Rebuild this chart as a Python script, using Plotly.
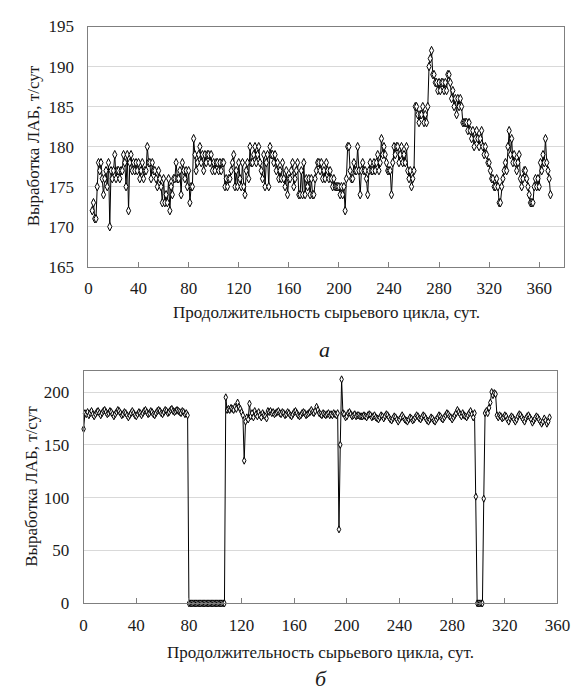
import plotly.graph_objects as go

# ---------------- Data ----------------
# (a) production by day, top chart (days start at 3)
top_start_day = 3
top_values = [
    172, 173, 171, 171, 175, 178, 177, 178, 176, 174,
    176, 177, 175, 178, 170, 177, 176, 177, 179, 176,
    177, 177, 176, 177, 177, 179, 178, 175, 179, 172,
    178, 179, 177, 178, 177, 178, 177, 178, 176, 177,
    178, 176, 177, 177, 180, 178, 178, 176, 178, 177,
    177, 176, 175, 177, 176, 175, 173, 176, 173, 174,
    173, 176, 172, 175, 174, 176, 176, 178, 176, 176,
    177, 174, 178, 177, 176, 177, 175, 177, 173, 175,
    175, 181, 179, 177, 178, 179, 180, 178, 179, 177,
    179, 178, 179, 179, 178, 179, 177, 178, 177, 178,
    178, 177, 178, 177, 178, 178, 175, 176, 175, 176,
    176, 177, 178, 179, 175, 177, 175, 178, 176, 175,
    178, 175, 174, 177, 178, 176, 180, 178, 178, 179,
    180, 178, 179, 180, 178, 177, 176, 179, 175, 178,
    179, 175, 180, 179, 179, 178, 179, 177, 178, 176,
    177, 176, 178, 176, 175, 177, 174, 176, 176, 177,
    178, 175, 176, 177, 178, 174, 174, 177, 174, 178,
    174, 176, 175, 176, 174, 176, 174, 174, 176, 177,
    178, 178, 177, 178, 176, 177, 176, 178, 177, 176,
    177, 176, 175, 176, 175, 175, 175, 175, 174, 175,
    174, 175, 172, 176, 180, 180, 177, 176, 176, 178,
    177, 177, 180, 177, 174, 177, 178, 177, 177, 176,
    174, 177, 178, 177, 177, 178, 177, 178, 179, 177,
    178, 181, 179, 180, 179, 178, 177, 177, 177, 174,
    178, 180, 179, 180, 180, 178, 179, 180, 178, 179,
    178, 180, 177, 176, 177, 175, 176, 177, 185, 185,
    184, 183, 184, 184, 185, 183, 184, 183, 185, 190,
    191, 192, 189, 189, 188, 188, 187, 188, 187, 188,
    188, 187, 188, 187, 189, 189, 188, 186, 187, 185,
    186, 184, 186, 185, 186, 185, 183, 183, 183, 183,
    182, 183, 182, 181, 182, 180, 181, 182, 181, 180,
    181, 182, 180, 179, 180, 179, 178, 178, 177, 176,
    176, 175, 175, 176, 175, 173, 173, 175, 176, 177,
    178, 177, 180, 182, 179, 181, 178, 179, 178, 177,
    178, 179, 176, 175, 176, 177, 177, 176, 175, 174,
    173, 173, 173, 175, 176, 175, 176, 175, 178, 177,
    179, 178, 181, 178, 177, 176, 174,
]
top_days = list(range(top_start_day, top_start_day + len(top_values)))

# (b) production by day, bottom chart (days start at 0)
bottom_values = [
    165, 180, 179, 181, 178, 180, 182, 179, 177, 179,
    181, 182, 180, 178, 180, 182, 183, 181, 179, 180,
    182, 181, 179, 177, 179, 181, 183, 182, 180, 178,
    179, 181, 180, 178, 176, 178, 180, 182, 180, 178,
    177, 179, 181, 180, 178, 180, 182, 183, 181, 179,
    180, 182, 181, 179, 178, 180, 182, 183, 182, 180,
    179, 181, 183, 182, 180, 181, 183, 184, 182, 181,
    182, 183, 182, 181, 180, 182, 181, 179, 180, 178,
    0, 0, 0, 0, 0, 0, 0, 0, 0, 0,
    0, 0, 0, 0, 0, 0, 0, 0, 0, 0,
    0, 0, 0, 0, 0, 0, 0, 0,
    195, 183, 184, 183, 185, 184, 183, 186, 184, 190,
    186, 184, 181, 178, 135, 172, 176, 174, 189, 177,
    180, 176, 182, 179, 177, 181, 178, 176, 180, 178,
    177, 175, 182, 181, 182, 180, 181, 179, 180, 181,
    182, 180, 179, 181, 180, 178, 179, 181, 180, 178,
    177, 179, 181, 182, 180, 178, 177, 178, 180, 181,
    180, 178, 179, 180, 181, 183, 181, 180, 182, 186,
    183, 180, 179, 178, 180, 179, 178, 179, 180, 178,
    179, 178, 180, 179, 178, 180, 70, 150, 212, 180,
    179, 176, 177, 180, 181, 179, 177, 178, 179, 177,
    178, 178, 177, 177, 177, 178, 177, 176, 178, 179,
    178, 176, 177, 178, 176, 175, 174, 176, 178, 177,
    175, 177, 179, 178, 176, 174, 173, 175, 177, 176,
    174, 172, 174, 176, 178, 176, 174, 173, 172, 174,
    176, 175, 173, 174, 176, 178, 177, 175, 174, 176,
    178, 177, 175, 173, 172, 174, 176, 175, 173, 172,
    174, 176, 178, 177, 175, 174, 176, 178, 180, 179,
    177, 176, 174, 176, 178, 180, 183, 181, 179, 177,
    180, 178, 177, 176, 178, 180, 182, 179, 176, 180,
    101, 0, 0, 0, 0, 0, 99, 180, 182, 180,
    185, 190, 200, 197, 199, 198, 178, 176, 178, 177,
    175, 176, 178, 177, 174, 172, 175, 177, 176, 174,
    172, 174, 177, 179, 178, 176, 174, 172, 175, 177,
    178, 176, 174, 171, 173, 175, 177, 176, 174, 172,
    170, 172, 175, 173, 170, 172, 176,
]
bottom_days = list(range(len(bottom_values)))

x_ticks = [0, 40, 80, 120, 160, 200, 240, 280, 320, 360]
top_y_ticks = [165, 170, 175, 180, 185, 190, 195]
bottom_y_ticks = [0, 50, 100, 150, 200]

x_title = "Продолжительность сырьевого цикла, сут."
y_title = "Выработка ЛАБ, т/сут"

# ---------------- Figure ----------------
W, H = 586, 698
FONT = "'Liberation Serif', 'Times New Roman', 'DejaVu Serif', serif"
TXT = "#1a1a1a"

def px_x(p):
    return p / W

def px_y(p):
    return 1 - p / H

line = dict(color="black", width=1)

fig = go.Figure()
fig.add_trace(go.Scatter(x=top_days, y=top_values, mode="lines+markers",
                         line=line,
                         marker=dict(symbol="diamond-tall", size=6, color="white",
                                     line=dict(color="black", width=1)),
                         xaxis="x", yaxis="y", showlegend=False, hoverinfo="skip"))
fig.add_trace(go.Scatter(x=bottom_days, y=bottom_values, mode="lines+markers",
                         line=line,
                         marker=dict(symbol="diamond-tall", size=5, color="white",
                                     line=dict(color="black", width=1)),
                         xaxis="x2", yaxis="y2", showlegend=False, hoverinfo="skip",
                         cliponaxis=False))

axis_common = dict(showline=True, mirror=True, linecolor="#7f7f7f", linewidth=1,
                   zeroline=False,
                   tickfont=dict(family=FONT, size=17, color=TXT))

def ann(text, x, y, size=17, angle=0):
    return dict(text=text, x=px_x(x), y=px_y(y), xref="paper", yref="paper",
                xanchor="center", yanchor="middle", textangle=angle,
                showarrow=False, font=dict(family=FONT, size=size, color=TXT))

# top plot area: x 87..577, y 18..265
# bottom plot area: x 82..570, y 372..611
fig.update_layout(
    width=W, height=H,
    margin=dict(l=0, r=0, t=0, b=0),
    paper_bgcolor="white", plot_bgcolor="white",
    font=dict(family=FONT, size=17, color=TXT),
    xaxis=dict(domain=[px_x(87), px_x(577)], range=[0, 380], anchor="y",
               tickvals=x_ticks, ticks="inside", ticklen=5, tickcolor="#7f7f7f",
               showgrid=False, ticklabelstandoff=6, **axis_common),
    yaxis=dict(domain=[px_y(265), px_y(18)], range=[165, 195], anchor="x",
               tickvals=top_y_ticks, ticks="", showgrid=True, gridcolor="#d9d9d9",
               gridwidth=1, ticklabelstandoff=10, **axis_common),
    xaxis2=dict(domain=[px_x(82), px_x(570)], range=[0, 360], anchor="y2",
                tickvals=x_ticks, ticks="inside", ticklen=5, tickcolor="#7f7f7f",
                showgrid=False, ticklabelstandoff=6, **axis_common),
    yaxis2=dict(domain=[px_y(611), px_y(372)], range=[0, 220], anchor="x2",
                tickvals=bottom_y_ticks, ticks="", showgrid=True, gridcolor="#d9d9d9",
                gridwidth=1, ticklabelstandoff=10, **axis_common),
    annotations=[
        ann(x_title, 332, 312),
        ann("<i>а</i>", 330, 350, size=22),
        ann(x_title, 326, 661),
        ann("<i>б</i>", 326, 688, size=22),
        ann(y_title, 30, 141, angle=-90),
        ann(y_title, 28, 491, angle=-90),
    ],
)

fig.write_html("out.html")
